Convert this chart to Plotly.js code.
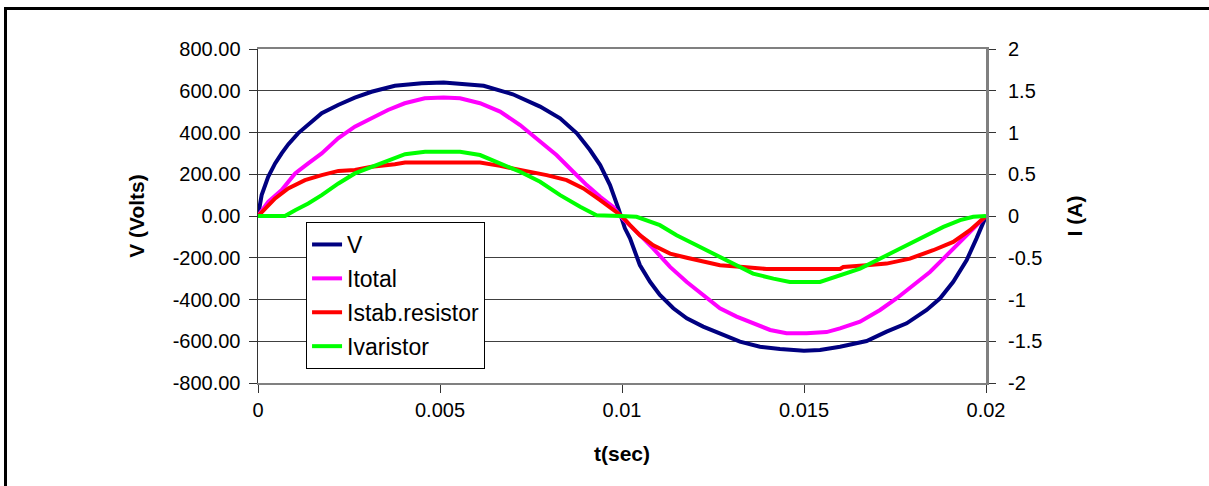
<!DOCTYPE html>
<html>
<head>
<meta charset="utf-8">
<script src="https://cdn.plot.ly/plotly-3.0.1.min.js"></script>
<style>
  html, body { margin: 0; padding: 0; background: #fff; }
  #wrap { position: relative; width: 1209px; height: 486px; overflow: hidden; }
  #chart { position: absolute; left: 0; top: 0; width: 1209px; height: 486px; }
  #frame { position: absolute; left: 4px; top: 7px; width: 1205px; height: 479px;
           border-left: 3px solid #000; border-top: 3px solid #000; pointer-events: none; box-sizing: border-box; }
</style>
</head>
<body>
<div id="wrap">
  <div id="chart"></div>
  <div id="frame"></div>
</div>
<script>
// ---- data (t in seconds) ----
const tV = [0, 0.0001, 0.00028, 0.00047, 0.00065, 0.00083, 0.0011, 0.00138, 0.00175, 0.0022, 0.00266, 0.00312, 0.00376, 0.0045, 0.0051,
            0.0062, 0.0070, 0.00775, 0.0083, 0.00876, 0.00912, 0.0094, 0.00967, 0.0099, 0.01008, 0.01022, 0.01049, 0.01077, 0.01104,
            0.01141, 0.01178, 0.01223, 0.01269, 0.01324, 0.01379, 0.01434, 0.0150, 0.01544, 0.01599, 0.01672, 0.01727, 0.01782,
            0.01837, 0.01874, 0.0191, 0.01947, 0.01974, 0.02];
const vVolts = [0, 100, 188, 252, 300, 343, 396, 436, 492, 532, 567, 595, 624, 636, 639,
                624, 583, 524, 468, 396, 316, 244, 148, 37, -59, -107, -235, -315, -378,
                -442, -490, -530, -562, -602, -626, -637, -645, -642, -626, -599, -554, -514,
                -450, -394, -315, -211, -107, 0];

const tItotal = [0, 0.00028, 0.00065, 0.00102, 0.00138, 0.00175, 0.0022, 0.00266, 0.00312, 0.00357, 0.00403, 0.00458, 0.0051,
                 0.00555, 0.0061, 0.00665, 0.0072, 0.00775, 0.0082, 0.00866, 0.00903, 0.0094, 0.00976, 0.00995, 0.01022, 0.01059,
                 0.01086, 0.01132, 0.01178, 0.01223, 0.01269, 0.01315, 0.0136, 0.01407, 0.01452, 0.01507, 0.01562, 0.01599,
                 0.01654, 0.01709, 0.01755, 0.018, 0.01846, 0.01883, 0.0192, 0.01956, 0.02];
const iTotal = [0, 0.17, 0.31, 0.51, 0.63, 0.75, 0.93, 1.07, 1.17, 1.27, 1.35, 1.41, 1.42,
                1.41, 1.35, 1.25, 1.09, 0.89, 0.73, 0.53, 0.37, 0.23, 0.11, 0, -0.11, -0.27,
                -0.39, -0.61, -0.79, -0.945, -1.105, -1.205, -1.285, -1.365, -1.405, -1.405, -1.39, -1.345,
                -1.265, -1.125, -0.985, -0.825, -0.67, -0.51, -0.35, -0.19, 0];

const tIstab = [0, 0.00019, 0.00047, 0.00083, 0.00129, 0.00175, 0.00221, 0.00266, 0.00312, 0.00376, 0.00404, 0.005, 0.0061,
                0.00665, 0.00738, 0.00793, 0.00848, 0.00894, 0.0094, 0.00976, 0.00999, 0.01022, 0.01049, 0.01086, 0.01132,
                0.01178, 0.01223, 0.01269, 0.01333, 0.01397, 0.01599, 0.01608, 0.01672, 0.01727, 0.01791, 0.01855, 0.0191,
                0.01956, 0.02];
const iStab = [0, 0.09, 0.21, 0.33, 0.43, 0.49, 0.54, 0.55, 0.59, 0.62, 0.64, 0.64, 0.64,
               0.60, 0.54, 0.49, 0.43, 0.33, 0.19, 0.07, 0, -0.11, -0.23, -0.35, -0.45,
               -0.50, -0.55, -0.59, -0.61, -0.635, -0.635, -0.61, -0.59, -0.57, -0.51, -0.41, -0.31,
               -0.17, 0];

const tIvar = [0, 0.00074, 0.00102, 0.00138, 0.00175, 0.00221, 0.00266, 0.00312, 0.00358, 0.00404, 0.00459, 0.00555,
               0.0061, 0.00665, 0.0072, 0.00775, 0.0083, 0.00885, 0.0093, 0.00995, 0.0104, 0.01104, 0.0115, 0.01205,
               0.0126, 0.01315, 0.0136, 0.01416, 0.01461, 0.01544, 0.01599, 0.01654, 0.01718, 0.01782, 0.01837, 0.01883,
               0.01929, 0.01965, 0.02];
const iVar = [0, 0, 0.07, 0.15, 0.25, 0.39, 0.51, 0.59, 0.67, 0.74, 0.77, 0.77,
              0.73, 0.63, 0.53, 0.41, 0.25, 0.11, 0.01, 0, -0.01, -0.11, -0.23, -0.35,
              -0.47, -0.59, -0.69, -0.75, -0.79, -0.79, -0.71, -0.63, -0.49, -0.35, -0.23, -0.13,
              -0.05, -0.01, 0];

const seriesNames = ['V', 'Itotal', 'Istab.resistor', 'Ivaristor'];

const xTickVals = [0, 0.005, 0.01, 0.015, 0.02];
const xTickText = ['0', '0.005', '0.01', '0.015', '0.02'];
const yTickVals = [-800, -600, -400, -200, 0, 200, 400, 600, 800];
const yTickText = ['-800.00', '-600.00', '-400.00', '-200.00', '0.00', '200.00', '400.00', '600.00', '800.00'];
const y2TickVals = [-2, -1.5, -1, -0.5, 0, 0.5, 1, 1.5, 2];
const y2TickText = ['-2', '-1.5', '-1', '-0.5', '0', '0.5', '1', '1.5', '2'];

const FONT = 'Liberation Sans, Arial, Helvetica, sans-serif';

const traces = [
  {x: tV, y: vVolts, name: seriesNames[0], yaxis: 'y', legendgroup: 'a', line: {color: '#000080', width: 4}},
  {x: tItotal, y: iTotal, name: seriesNames[1], yaxis: 'y2', legendgroup: 'b', line: {color: '#FF00FF', width: 4}},
  {x: tIstab, y: iStab, name: seriesNames[2], yaxis: 'y2', legendgroup: 'c', line: {color: '#FF0000', width: 4}},
  {x: tIvar, y: iVar, name: seriesNames[3], yaxis: 'y2', legendgroup: 'd', line: {color: '#00FF00', width: 4}}
].map(t => Object.assign({type: 'scatter', mode: 'lines', hoverinfo: 'skip'}, t));

const layout = {
  width: 1209, height: 486,
  margin: {l: 258, r: 223, t: 49, b: 103},
  paper_bgcolor: '#fff', plot_bgcolor: '#fff',
  font: {family: FONT, size: 20, color: '#000'},
  showlegend: true,
  legend: {
    x: 0.066, y: 0.482, xanchor: 'left', yanchor: 'top',
    bgcolor: '#fff', bordercolor: '#000', borderwidth: 1,
    font: {family: FONT, size: 23, color: '#000'},
    traceorder: 'grouped', tracegroupgap: 1
  },
  xaxis: {
    range: [0, 0.02], tickvals: xTickVals, ticktext: xTickText,
    showgrid: false, zeroline: false,
    showline: true, linecolor: '#808080', linewidth: 2, mirror: true,
    ticks: 'outside', ticklen: 8, tickcolor: '#333', tickwidth: 1,
    tickfont: {size: 20}, ticklabelstandoff: 0,
    title: {text: '<b>t(sec)</b>', font: {size: 21}, standoff: 26}
  },
  yaxis: {
    range: [-800, 800], tickvals: yTickVals, ticktext: yTickText,
    showgrid: true, gridcolor: '#404040', gridwidth: 1, zeroline: false,
    showline: true, linecolor: '#333', linewidth: 1.5,
    ticks: 'outside', ticklen: 8, tickcolor: '#333', tickwidth: 1,
    tickfont: {size: 20}, ticklabelstandoff: 4,
    title: {text: '<b>V (Volts)</b>', font: {size: 21}, standoff: 22}
  },
  yaxis2: {
    range: [-2, 2], tickvals: y2TickVals, ticktext: y2TickText,
    overlaying: 'y', side: 'right',
    showgrid: false, zeroline: false,
    showline: true, linecolor: '#808080', linewidth: 3,
    ticks: 'outside', ticklen: 7, tickcolor: '#333', tickwidth: 1,
    tickfont: {size: 20}, ticklabelstandoff: 8,
    title: {text: '<b>I (A)</b>', font: {size: 21}, standoff: 26}
  }
};

Plotly.newPlot('chart', traces, layout, {staticPlot: true, displayModeBar: false});
</script>
</body>
</html>
